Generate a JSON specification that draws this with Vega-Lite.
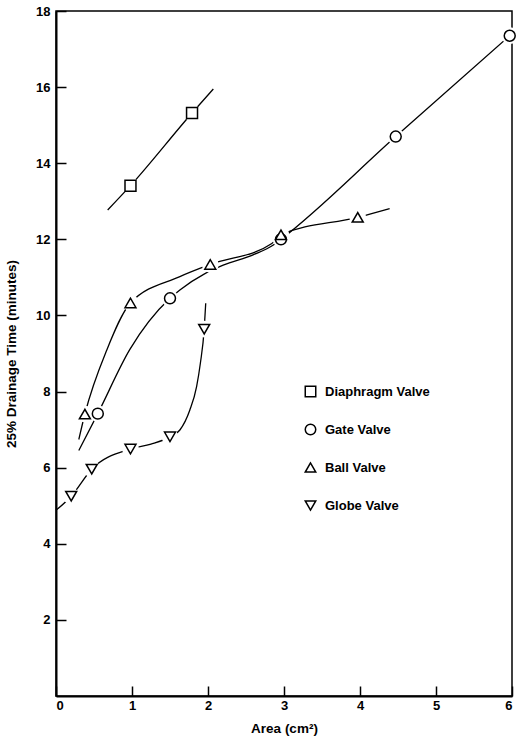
{
  "$schema": "https://vega.github.io/schema/vega-lite/v6.json",
  "width": 456,
  "height": 685,
  "autosize": {"type": "none"},
  "padding": {"left": 56, "top": 11, "right": 4, "bottom": 43},
  "background": "white",
  "config": {
    "view": {"stroke": "black", "strokeWidth": 1.5},
    "font": "Liberation Sans",
    "axis": {
      "grid": false,
      "domainColor": "black",
      "domainWidth": 2,
      "tickColor": "black",
      "tickWidth": 1.5,
      "tickSize": -10,
      "labelFont": "Liberation Sans",
      "labelFontWeight": "bold",
      "labelFontSize": 13,
      "labelColor": "black",
      "titleFont": "Liberation Sans",
      "titleFontWeight": "bold",
      "titleFontSize": 13.5,
      "titleColor": "black"
    },
    "legend": {
      "symbolFillColor": "white",
      "symbolStrokeWidth": 1.5,
      "symbolOpacity": 1
    }
  },
  "datasets": {
    "curves": [
      {"valve": "Diaphragm Valve", "x": 0.68, "y": 12.77},
      {"valve": "Diaphragm Valve", "x": 0.98, "y": 13.41},
      {"valve": "Diaphragm Valve", "x": 1.79, "y": 15.32},
      {"valve": "Diaphragm Valve", "x": 2.07, "y": 15.95},
      {"valve": "Gate Valve", "x": 0.3, "y": 6.45},
      {"valve": "Gate Valve", "x": 0.55, "y": 7.42},
      {"valve": "Gate Valve", "x": 0.97, "y": 9.1},
      {"valve": "Gate Valve", "x": 1.5, "y": 10.45},
      {"valve": "Gate Valve", "x": 1.63, "y": 10.67},
      {"valve": "Gate Valve", "x": 1.96, "y": 11.1},
      {"valve": "Gate Valve", "x": 2.2, "y": 11.32},
      {"valve": "Gate Valve", "x": 2.6, "y": 11.6},
      {"valve": "Gate Valve", "x": 2.86, "y": 11.85},
      {"valve": "Gate Valve", "x": 2.96, "y": 12.0},
      {"valve": "Gate Valve", "x": 4.47, "y": 14.7},
      {"valve": "Gate Valve", "x": 5.97, "y": 17.35},
      {"valve": "Ball Valve", "x": 0.3, "y": 6.74},
      {"valve": "Ball Valve", "x": 0.38, "y": 7.41},
      {"valve": "Ball Valve", "x": 0.67, "y": 9.1},
      {"valve": "Ball Valve", "x": 0.98, "y": 10.33},
      {"valve": "Ball Valve", "x": 1.63, "y": 11.02},
      {"valve": "Ball Valve", "x": 2.03, "y": 11.34},
      {"valve": "Ball Valve", "x": 2.84, "y": 11.89},
      {"valve": "Ball Valve", "x": 2.96, "y": 12.12},
      {"valve": "Ball Valve", "x": 3.97, "y": 12.58},
      {"valve": "Ball Valve", "x": 4.39, "y": 12.81},
      {"valve": "Globe Valve", "x": 0.0, "y": 4.88},
      {"valve": "Globe Valve", "x": 0.2, "y": 5.25},
      {"valve": "Globe Valve", "x": 0.47, "y": 5.96},
      {"valve": "Globe Valve", "x": 0.98, "y": 6.49},
      {"valve": "Globe Valve", "x": 1.25, "y": 6.62},
      {"valve": "Globe Valve", "x": 1.5, "y": 6.81},
      {"valve": "Globe Valve", "x": 1.63, "y": 6.99},
      {"valve": "Globe Valve", "x": 1.76, "y": 7.51},
      {"valve": "Globe Valve", "x": 1.85, "y": 8.13},
      {"valve": "Globe Valve", "x": 1.9, "y": 8.75},
      {"valve": "Globe Valve", "x": 1.95, "y": 9.64},
      {"valve": "Globe Valve", "x": 1.97, "y": 10.32}
    ],
    "markers": [
      {"valve": "Diaphragm Valve", "x": 0.98, "y": 13.41},
      {"valve": "Diaphragm Valve", "x": 1.79, "y": 15.32},
      {"valve": "Gate Valve", "x": 0.55, "y": 7.42},
      {"valve": "Gate Valve", "x": 1.5, "y": 10.45},
      {"valve": "Gate Valve", "x": 2.96, "y": 12.0},
      {"valve": "Gate Valve", "x": 4.47, "y": 14.7},
      {"valve": "Gate Valve", "x": 5.97, "y": 17.35},
      {"valve": "Ball Valve", "x": 0.38, "y": 7.41},
      {"valve": "Ball Valve", "x": 0.98, "y": 10.33},
      {"valve": "Ball Valve", "x": 2.03, "y": 11.34},
      {"valve": "Ball Valve", "x": 2.96, "y": 12.12},
      {"valve": "Ball Valve", "x": 3.97, "y": 12.58},
      {"valve": "Globe Valve", "x": 0.2, "y": 5.25},
      {"valve": "Globe Valve", "x": 0.47, "y": 5.96},
      {"valve": "Globe Valve", "x": 0.98, "y": 6.49},
      {"valve": "Globe Valve", "x": 1.5, "y": 6.81},
      {"valve": "Globe Valve", "x": 1.95, "y": 9.64}
    ]
  },
  "encoding": {
    "x": {
      "field": "x", "type": "quantitative",
      "scale": {"domain": [0, 6], "nice": false, "zero": false},
      "axis": {"title": "Area (cm²)", "values": [0, 1, 2, 3, 4, 5, 6], "labelPadding": 13, "titlePadding": 9}
    },
    "y": {
      "field": "y", "type": "quantitative",
      "scale": {"domain": [0, 18], "nice": false, "zero": false},
      "axis": {"title": "25% Drainage Time (minutes)", "values": [2, 4, 6, 8, 10, 12, 14, 16, 18], "labelPadding": 16, "titlePadding": 17}
    }
  },
  "layer": [
    {
      "data": {"name": "curves"},
      "mark": {"type": "line", "interpolate": "monotone", "stroke": "black", "strokeWidth": 1.3},
      "encoding": {"detail": {"field": "valve", "type": "nominal"}}
    },
    {
      "data": {"name": "markers"},
      "mark": {"type": "circle", "color": "white", "size": 280, "opacity": 1}
    },
    {
      "data": {"name": "markers"},
      "mark": {"type": "point", "filled": false, "fill": "white", "fillOpacity": 1, "strokeWidth": 1.5, "size": 120, "opacity": 1},
      "encoding": {
        "stroke": {
          "field": "valve", "type": "nominal",
          "scale": {"domain": ["Diaphragm Valve", "Gate Valve", "Ball Valve", "Globe Valve"], "range": ["black", "black", "black", "black"]},
          "legend": {
            "title": null,
            "orient": "none",
            "legendX": 248,
            "legendY": 374,
            "padding": 0,
            "rowPadding": 21,
            "labelOffset": 8,
            "labelFont": "Liberation Sans",
            "labelFontWeight": "bold",
            "labelFontSize": 13,
            "labelColor": "black",
            "symbolSize": 110
          }
        },
        "shape": {
          "field": "valve", "type": "nominal",
          "scale": {"domain": ["Diaphragm Valve", "Gate Valve", "Ball Valve", "Globe Valve"], "range": ["square", "circle", "triangle-up", "triangle-down"]},
          "legend": {
            "title": null,
            "orient": "none",
            "legendX": 248,
            "legendY": 374,
            "padding": 0,
            "rowPadding": 21,
            "labelOffset": 8,
            "labelFont": "Liberation Sans",
            "labelFontWeight": "bold",
            "labelFontSize": 13,
            "labelColor": "black",
            "symbolSize": 110
          }
        }
      }
    }
  ]
}
